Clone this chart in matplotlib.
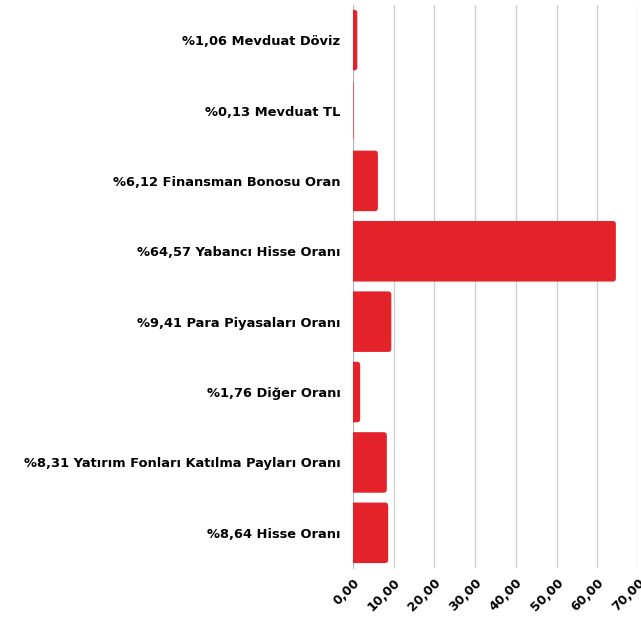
import matplotlib.pyplot as plt
from matplotlib.patches import FancyBboxPatch
import numpy as np

labels = ["%1,06 Mevduat Döviz", "%0,13 Mevduat TL", "%6,12 Finansman Bonosu Oran",
          "%64,57 Yabancı Hisse Oranı", "%9,41 Para Piyasaları Oranı", "%1,76 Diğer Oranı",
          "%8,31 Yatırım Fonları Katılma Payları Oranı", "%8,64 Hisse Oranı"]
values = [1.06, 0.13, 6.12, 64.57, 9.41, 1.76, 8.31, 8.64]
ticks = [0, 10, 20, 30, 40, 50, 60, 70]
tick_labels = ["0,00", "10,00", "20,00", "30,00", "40,00", "50,00", "60,00", "70,00"]

plt.rcParams['font.family'] = ['DejaVu Sans']
fig = plt.figure(figsize=(6.41, 6.17), dpi=100)
ax = fig.add_axes([0.5507, 0.0794, 0.4446, 0.9126])
red = "#e42229"

n = len(values)
ax.set_xlim(0, 70)
ax.set_ylim(n - 0.5, -0.5)
h = 0.86
for i, v in enumerate(values):
    p = FancyBboxPatch((-2, i - h / 2), v + 2, h,
                       boxstyle="round,pad=0,rounding_size=0.8",
                       mutation_aspect=0.057, fc=red, ec="none", zorder=3)
    ax.add_patch(p)

ax.set_yticks(range(n))
ax.set_yticklabels(labels, fontsize=9.4, fontweight='bold')
ax.set_xticks(ticks)
ax.set_xticklabels(tick_labels, fontsize=9.2, fontweight='bold', rotation=45,
                   ha='right', rotation_mode='anchor')
ax.tick_params(length=0, pad=9)
ax.tick_params(axis='x', pad=6)
ax.grid(axis='x', color='#d0d0d0', lw=1, zorder=0)
for s in ["top", "right", "bottom"]:
    ax.spines[s].set_visible(False)
ax.spines["left"].set_color('#bbbbbb')
fig.savefig("out.png", dpi=100)
